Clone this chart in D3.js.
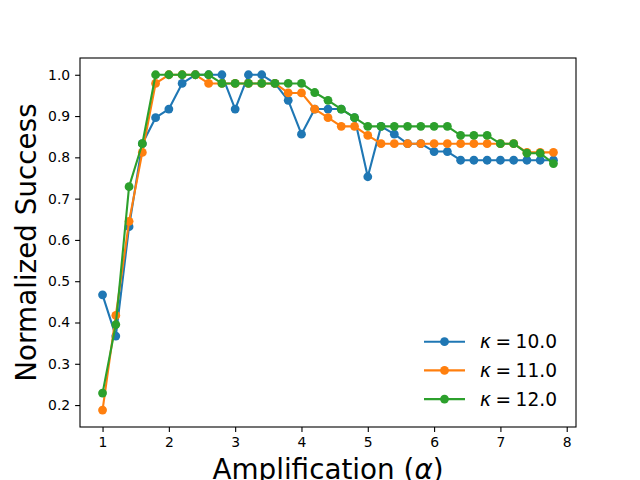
<!DOCTYPE html>
<html>
<head>
<meta charset="utf-8">
<script src="https://cdn.jsdelivr.net/npm/d3@7"></script>
<style>
  body { margin: 0; background: #fff; }
  text { font-family: "DejaVu Sans", sans-serif; }
</style>
</head>
<body>
<svg></svg>
<script>
var w = 640;
var h = 480;

var alphas = [1.0, 1.2, 1.4, 1.6, 1.8, 2.0, 2.2, 2.4, 2.6, 2.8, 3.0, 3.2, 3.4, 3.6, 3.8, 4.0, 4.2,
  4.4, 4.6, 4.8, 5.0, 5.2, 5.4, 5.6, 5.8, 6.0, 6.2, 6.4, 6.6, 6.8, 7.0, 7.2, 7.4, 7.6, 7.8];

var kappa10 = [0.467, 0.367, 0.632, 0.833, 0.896, 0.917, 0.979, 1.0, 1.0, 1.0, 0.917, 1.0, 1.0,
  0.979, 0.938, 0.856, 0.917, 0.917, 0.917, 0.896, 0.753, 0.875, 0.856, 0.833, 0.833, 0.814,
  0.814, 0.793, 0.793, 0.793, 0.793, 0.793, 0.793, 0.793, 0.793];
var kappa11 = [0.188, 0.417, 0.645, 0.812, 0.979, 1.0, 1.0, 1.0, 0.979, 0.979, 0.979, 0.979,
  0.979, 0.979, 0.956, 0.956, 0.917, 0.896, 0.875, 0.875, 0.853, 0.833, 0.833, 0.833, 0.833,
  0.833, 0.833, 0.833, 0.833, 0.833, 0.833, 0.833, 0.812, 0.812, 0.812];
var kappa12 = [0.229, 0.395, 0.729, 0.833, 1.0, 1.0, 1.0, 1.0, 1.0, 0.979, 0.979, 0.979, 0.979,
  0.979, 0.979, 0.979, 0.957, 0.938, 0.917, 0.896, 0.875, 0.875, 0.875, 0.875, 0.875, 0.875,
  0.875, 0.853, 0.853, 0.853, 0.833, 0.833, 0.81, 0.81, 0.785];

var seriesNames = ["10.0", "11.0", "12.0"];
var seriesValues = [kappa10, kappa11, kappa12];
var xTicks = [1, 2, 3, 4, 5, 6, 7, 8];
var yTicks = [0.2, 0.3, 0.4, 0.5, 0.6, 0.7, 0.8, 0.9, 1.0];

var colors = ["#1f77b4", "#ff7f0e", "#2ca02c"];

var plotLeft = 80, plotRight = 576, plotTop = 58, plotBottom = 427;

var svg = d3.select("svg").attr("width", w).attr("height", h);

var x = d3.scaleLinear().domain([0.66, 8.14]).range([plotLeft, plotRight]);
var y = d3.scaleLinear().domain([0.1469, 1.0406]).range([plotBottom, plotTop]);

var xAxis = svg
  .append("g")
  .attr("transform", "translate(0," + plotBottom + ")")
  .call(d3.axisBottom(x).tickValues(xTicks).tickFormat(d3.format("d")).tickSize(4.9).tickPadding(4.9));

var yAxis = svg
  .append("g")
  .attr("transform", "translate(" + plotLeft + ",0)")
  .call(d3.axisLeft(y).tickValues(yTicks).tickFormat(d3.format(".1f")).tickSize(4.9).tickPadding(4.9));

[xAxis, yAxis].forEach((g) => {
  g.select(".domain").remove();
  g.selectAll("line").attr("stroke", "#000").attr("stroke-width", 1.1);
  g.selectAll("text").attr("font-size", 13.9).attr("fill", "#000").attr("font-family", "DejaVu Sans");
});

var line = d3
  .line()
  .x((d, i) => x(alphas[i]))
  .y((d) => y(d));

seriesValues.forEach((vals, k) => {
  svg
    .append("path")
    .datum(vals)
    .attr("d", line)
    .attr("fill", "none")
    .attr("stroke", colors[k])
    .attr("stroke-width", 2.1)
    .attr("stroke-linejoin", "round")
    .attr("stroke-linecap", "square");

  svg
    .append("g")
    .selectAll("circle")
    .data(vals)
    .enter()
    .append("circle")
    .attr("cx", (d, i) => x(alphas[i]))
    .attr("cy", (d) => y(d))
    .attr("r", 4.4)
    .style("fill", colors[k]);
});

svg
  .append("rect")
  .attr("x", plotLeft)
  .attr("y", plotTop)
  .attr("width", plotRight - plotLeft)
  .attr("height", plotBottom - plotTop)
  .attr("fill", "none")
  .attr("stroke", "#000")
  .attr("stroke-width", 1.1);

// the reference crops this label at the bottom edge too
var xLabel = svg
  .append("text")
  .attr("x", (plotLeft + plotRight) / 2)
  .attr("y", 479)
  .attr("text-anchor", "middle")
  .attr("font-size", 27.8);
xLabel.append("tspan").text("Amplification (");
xLabel.append("tspan").attr("font-style", "italic").text("α");
xLabel.append("tspan").text(")");

svg
  .append("text")
  .attr("transform", "translate(36," + (plotTop + plotBottom) / 2 + ") rotate(-90)")
  .attr("text-anchor", "middle")
  .attr("font-size", 27.8)
  .text("Normalized Success");

var legend = svg
  .append("g")
  .selectAll("g")
  .data(seriesNames)
  .enter()
  .append("g")
  .attr("transform", (d, i) => "translate(0," + (341.7 + i * 28.7) + ")");

legend
  .append("line")
  .attr("x1", 424)
  .attr("x2", 465)
  .attr("stroke", (d, i) => colors[i])
  .attr("stroke-width", 2.1);

legend
  .append("circle")
  .attr("cx", 444.5)
  .attr("r", 4.4)
  .style("fill", (d, i) => colors[i]);

var legendText = legend
  .append("text")
  .attr("x", 480)
  .attr("y", 6.6)
  .attr("font-size", 18.6);

legendText.append("tspan").attr("font-style", "italic").text("κ");
legendText.append("tspan").attr("dx", 4.5).text("=");
legendText.append("tspan").attr("dx", 4.5).text((d) => d);
</script>
</body>
</html>
